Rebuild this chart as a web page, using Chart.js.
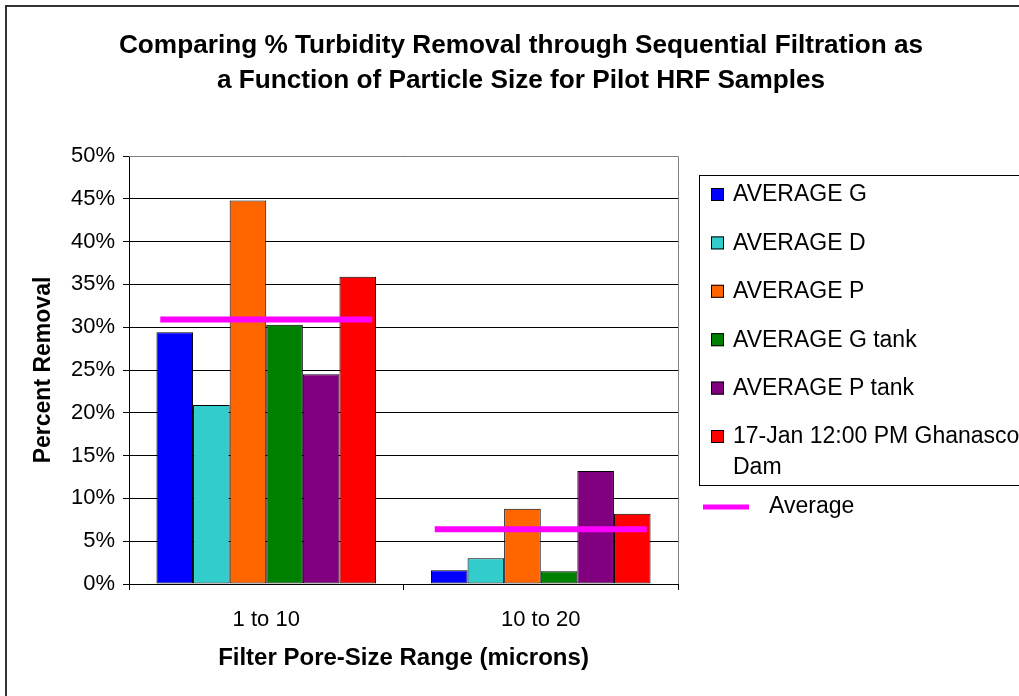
<!DOCTYPE html>
<html>
<head>
<meta charset="utf-8">
<title>Turbidity Removal by Particle Size</title>
<script src="https://cdn.jsdelivr.net/npm/chart.js@4/dist/chart.umd.min.js"></script>
<style>
  html, body { margin: 0; padding: 0; background: #fff; overflow: hidden; }
  canvas { display: block; }
</style>
</head>
<body>
<canvas id="chart" width="1019" height="696"></canvas>
<script>
// Filter pore-size ranges (microns)
const categories = ['1 to 10', '10 to 20'];

// Percent turbidity removal for each sample series
const averageG     = [29.4, 1.6];
const averageD     = [20.9, 3.0];
const averageP     = [44.8, 8.8];
const averageGTank = [30.3, 1.5];
const averagePTank = [24.5, 13.2];
const ghanascoDam  = [35.9, 8.2];

// Overall average per pore-size range
const overallAverage = [30.9, 6.4];

const titleLines = [
  'Comparing % Turbidity Removal through Sequential Filtration as',
  'a Function of Particle Size for Pilot HRF Samples'
];

const FONT = '"Liberation Sans", Arial, Helvetica, sans-serif';

function barSet(label, data, color) {
  return {
    label, data,
    backgroundColor: color,
    borderColor: '#000',
    borderWidth: 1,
    borderSkipped: false
  };
}

// White page, outer frame and the two-line title
const framePlugin = {
  id: 'frame',
  beforeDraw(chart) {
    const { ctx, width, height } = chart;
    ctx.save();
    ctx.fillStyle = '#fff';
    ctx.fillRect(0, 0, width, height);
    ctx.strokeStyle = '#333';
    ctx.lineWidth = 2;
    ctx.strokeRect(6, 6, width + 40, height + 40);
    ctx.fillStyle = '#000';
    ctx.font = 'bold 26.2px ' + FONT;
    ctx.textAlign = 'center';
    ctx.textBaseline = 'middle';
    ctx.fillText(titleLines[0], 521, 46);
    ctx.fillText(titleLines[1], 521, 81);
    ctx.restore();
  },
  beforeDatasetsDraw(chart) {
    // grey top and right edges of the plot area
    const { ctx, chartArea: a } = chart;
    ctx.save();
    ctx.strokeStyle = '#808080';
    ctx.lineWidth = 1;
    ctx.beginPath();
    ctx.moveTo(a.left, Math.round(a.top) + 0.5);
    ctx.lineTo(Math.round(a.right) + 0.5, Math.round(a.top) + 0.5);
    ctx.lineTo(Math.round(a.right) + 0.5, a.bottom);
    ctx.stroke();
    ctx.restore();
  }
};

// Legend: boxed list of bar series, average line entry below the box
const sideLegend = {
  id: 'sideLegend',
  afterDraw(chart) {
    const { ctx } = chart;
    ctx.save();
    ctx.strokeStyle = '#000';
    ctx.lineWidth = 1;
    ctx.strokeRect(699.5, 175.5, 400, 310);
    ctx.font = '23px ' + FONT;
    ctx.textAlign = 'left';
    ctx.textBaseline = 'middle';
    ctx.fillStyle = '#000';
    let row = 0;
    chart.data.datasets.forEach((ds) => {
      if (ds.type === 'line') {
        ctx.strokeStyle = ds.borderColor;
        ctx.lineWidth = 5;
        ctx.beginPath();
        ctx.moveTo(703, 507);
        ctx.lineTo(749, 507);
        ctx.stroke();
        ctx.fillStyle = '#000';
        ctx.fillText(ds.label, 769, 507);
        return;
      }
      const y = 195 + row * 48.4;
      ctx.fillStyle = ds.backgroundColor;
      ctx.fillRect(711, y - 7, 13, 13);
      ctx.strokeStyle = '#000';
      ctx.lineWidth = 1;
      ctx.strokeRect(711.5, y - 6.5, 12, 12);
      ctx.fillStyle = '#000';
      // simple word wrap
      const words = ds.label.split(' ');
      const lines = [];
      let cur = '';
      words.forEach(w => {
        const test = cur ? cur + ' ' + w : w;
        if (ctx.measureText(test).width > 300 && cur) { lines.push(cur); cur = w; }
        else cur = test;
      });
      lines.push(cur);
      lines.forEach((t, k) => ctx.fillText(t, 733, y + k * 31));
      row++;
    });
    ctx.restore();
  }
};

new Chart(document.getElementById('chart'), {
  type: 'bar',
  data: {
    labels: categories,
    datasets: [
      barSet('AVERAGE G', averageG, '#0000FF'),
      barSet('AVERAGE D', averageD, '#33CCCC'),
      barSet('AVERAGE P', averageP, '#FF6600'),
      barSet('AVERAGE G tank', averageGTank, '#008000'),
      barSet('AVERAGE P tank', averagePTank, '#800080'),
      barSet('17-Jan 12:00 PM Ghanasco Dam', ghanascoDam, '#FF0000'),
      {
        type: 'line',
        label: 'Average',
        data: overallAverage,
        borderColor: '#FF00FF',
        backgroundColor: '#FF00FF',
        showLine: false,
        pointStyle: 'line',
        pointRadius: 106,
        pointHoverRadius: 106,
        pointBorderWidth: 6,
        pointHoverBorderWidth: 6,
        order: -1
      }
    ]
  },
  options: {
    responsive: false,
    animation: false,
    events: [],
    categoryPercentage: 0.8,
    barPercentage: 1.0,
    layout: { padding: { top: 156, right: 341, left: 0, bottom: 0 } },
    plugins: {
      legend: { display: false },
      title: { display: false },
      tooltip: { enabled: false }
    },
    scales: {
      x: {
        offset: true,
        grid: { offset: true, drawOnChartArea: false, color: '#000', tickLength: 6 },
        border: { color: '#000' },
        ticks: { font: { family: FONT, size: 22 }, color: '#000', padding: 17, maxRotation: 0 },
        title: {
          display: true,
          text: 'Filter Pore-Size Range (microns)',
          font: { family: FONT, size: 24, weight: 'bold' },
          color: '#000',
          padding: { top: 0, bottom: 14 }
        },
        afterFit(s) { s.height = 103; }
      },
      y: {
        min: 0,
        max: 50,
        ticks: {
          stepSize: 5,
          callback: v => v + '%',
          font: { family: FONT, size: 22 },
          color: '#000',
          padding: 8
        },
        grid: { color: '#000', tickLength: 6 },
        border: { color: '#000' },
        title: {
          display: true,
          text: 'Percent Removal',
          font: { family: FONT, size: 23, weight: 'bold' },
          color: '#000',
          padding: { top: 30, bottom: 0 }
        },
        afterFit(s) { s.width = 129; }
      }
    }
  },
  plugins: [framePlugin, sideLegend]
});
</script>
</body>
</html>
